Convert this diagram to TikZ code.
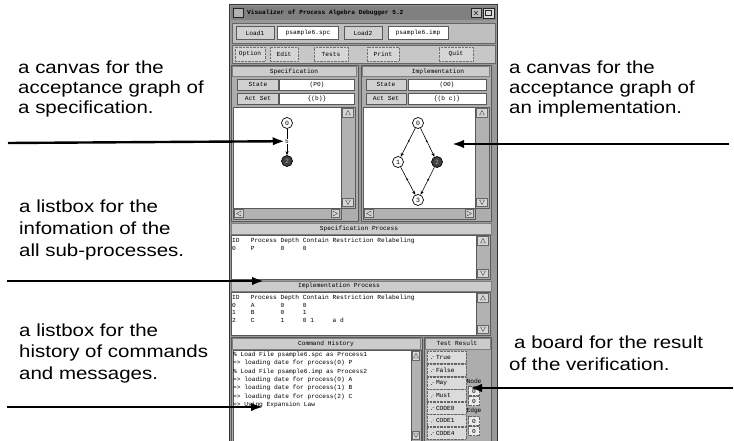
\documentclass[tikz,border=0pt]{standalone}
\usepackage{fontspec}
\setmainfont{Liberation Sans}
\newfontfamily\annotfont[FakeStretch=1.17]{Liberation Sans}
\newfontfamily\guifont{Liberation Mono}
\usetikzlibrary{arrows.meta}

% vertical scrollbar: x1, y1, x2, y2
\newcommand\guivscroll[4]{%
  \filldraw[sbar] (#1,#2) rectangle (#3,#4);
  \filldraw[sbtn] (#1+1.5,#2+1.5) rectangle (#3-1.5,#2+10);
  \filldraw[sbtn] (#1+1.5,#4-10) rectangle (#3-1.5,#4-1.5);
  \draw[black!70,line width=0.4pt] ({(#1+#3)/2-2.5},#2+8) -- ({(#1+#3)/2},#2+3.5) -- ({(#1+#3)/2+2.5},#2+8) -- cycle;
  \draw[black!70,line width=0.4pt] ({(#1+#3)/2-2.5},#4-8) -- ({(#1+#3)/2},#4-3.5) -- ({(#1+#3)/2+2.5},#4-8) -- cycle;
}
% horizontal scrollbar: x1, y1, x2, y2
\newcommand\guihscroll[4]{%
  \filldraw[sbar] (#1,#2) rectangle (#3,#4);
  \filldraw[sbtn] (#1+1.5,#2+1.5) rectangle (#1+10,#4-1.5);
  \filldraw[sbtn] (#3-10,#2+1.5) rectangle (#3-1.5,#4-1.5);
  \draw[black!70,line width=0.4pt] (#1+8,{(#2+#4)/2-2.5}) -- (#1+3.5,{(#2+#4)/2}) -- (#1+8,{(#2+#4)/2+2.5}) -- cycle;
  \draw[black!70,line width=0.4pt] (#3-8,{(#2+#4)/2-2.5}) -- (#3-3.5,{(#2+#4)/2}) -- (#3-8,{(#2+#4)/2+2.5}) -- cycle;
}

\begin{document}
\begin{tikzpicture}[x=1pt,y=-1pt,
  lbl/.style={anchor=base west, inner sep=0pt, font=\annotfont\fontsize{17.5}{21}\selectfont},
  gui/.style={inner sep=0pt, font=\guifont\fontsize{6.2}{7}\selectfont},
  guiw/.style={gui, anchor=west},
  panel/.style={fill=black!32, draw=black!65, line width=0.5pt},
  headbar/.style={fill=black!20, draw=black!50, line width=0.4pt},
  listbox/.style={fill=white, draw=black!65, line width=0.5pt},
  btnbox/.style={gui, draw=black!65, fill=black!18, line width=0.5pt, minimum height=13pt},
  fieldbox/.style={gui, draw=black!65, fill=white, line width=0.5pt, minimum height=13pt},
  menubtn/.style={gui, draw=black!55, densely dotted, fill=black!16, minimum height=14pt},
  resbtn/.style={gui, draw=black!60, densely dotted, fill=black!14, minimum width=39pt,
    minimum height=12pt, text width=39pt, align=left},
  smallfield/.style={gui, draw=black!60, densely dotted, fill=black!8, minimum width=11pt, minimum height=9pt},
  sbar/.style={fill=black!30, draw=black!65, line width=0.4pt},
  sbtn/.style={fill=black!16, draw=black!60, line width=0.4pt},
  gstate/.style={circle, draw, fill=white, line width=0.7pt, minimum size=11pt, inner sep=0pt,
    font=\guifont\fontsize{6.5}{7}\selectfont},
  gfinal/.style={gstate, fill=black!75, text=black!35},
  gedge/.style={line width=0.6pt, -{Stealth[length=4pt,width=3.2pt]}},
  gmark/.style={circle, fill=black, inner sep=0pt, minimum size=2pt},
  callout/.style={line width=2.4pt, -{Latex[length=12pt,width=8.5pt]}}]

\useasboundingbox (0,0) rectangle (734,441);
\fill[white] (0,0) rectangle (734,441);

% ---------- application window ----------
\fill[black!40] (229,4) rectangle (498,441);
\draw[black!80, line width=0.8pt] (229.4,441) -- (229.4,4.4) -- (497.6,4.4) -- (497.6,441);

% title bar
\fill[black!50] (231,6) rectangle (496,20);
\filldraw[fill=black!30, draw=black!85, line width=0.5pt] (233,8.5) rectangle (243,17.5);
\node[guiw, font=\guifont\bfseries\fontsize{6.2}{7}\selectfont] (title) at (247,13)
  {Visualizer of Process Algebra Debugger 5.2};
\filldraw[fill=black!25, draw=black!85, line width=0.5pt] (471,8.5) rectangle (481,17.5);
\draw[black!85, line width=0.6pt] (474,11) -- (478,15) (478,11) -- (474,15);
\filldraw[fill=black!15, draw=black!85, line width=0.5pt] (483,8) rectangle (494,18);
\draw[black!85, line width=0.5pt] (485.5,10.5) rectangle (491.5,15.5);

% file row
\filldraw[fill=black!25, draw=black!60, line width=0.5pt] (232,23) rectangle (495,43);
\node[btnbox, minimum width=38pt] (load1) at (255,33) {Load1};
\node[fieldbox, minimum width=61pt] (spcfile) at (308,33) {psample6.spc};
\node[btnbox, minimum width=38pt] (load2) at (363,33) {Load2};
\node[fieldbox, minimum width=60pt] (impfile) at (418,33) {psample6.imp};

% menu row
\filldraw[fill=black!22, draw=black!60, line width=0.5pt] (232,45) rectangle (495,63);
\node[menubtn, minimum width=30pt] (option) at (250,54) {Option};
\node[menubtn, minimum width=28pt] (edit) at (284,54) {Edit};
\node[menubtn, minimum width=34pt] (tests) at (331,54) {Tests};
\node[menubtn, minimum width=32pt] (print) at (383,54) {Print};
\node[menubtn, minimum width=34pt] (quit) at (456,54) {Quit};

% specification panel
\filldraw[panel] (231,65) rectangle (358,221);
\filldraw[headbar] (232.5,66.5) rectangle (356.5,76.5);
\node[gui] (spechd) at (294,71.5) {Specification};
\node[btnbox, minimum width=41pt, minimum height=11pt] (sst) at (258,84.5) {State};
\node[fieldbox, minimum width=75pt, minimum height=11pt] (sstv) at (317,84.5) {(P0)};
\node[btnbox, minimum width=41pt, minimum height=11pt] (sas) at (258,98.5) {Act Set};
\node[fieldbox, minimum width=75pt, minimum height=11pt] (sasv) at (317,98.5) {\{(b)\}};
\filldraw[listbox] (233,107) rectangle (341,208);
\guivscroll{341}{107}{355}{208}
\guihscroll{233}{208}{341}{219}

% implementation panel
\filldraw[panel] (361,65) rectangle (491,221);
\filldraw[headbar] (362.5,66.5) rectangle (489.5,76.5);
\node[gui] (imphd) at (438,71.5) {Implementation};
\node[btnbox, minimum width=40pt, minimum height=11pt] (ist) at (386,84.5) {State};
\node[fieldbox, minimum width=78pt, minimum height=11pt] (istv) at (447,84.5) {(O0)};
\node[btnbox, minimum width=40pt, minimum height=11pt] (ias) at (386,98.5) {Act Set};
\node[fieldbox, minimum width=78pt, minimum height=11pt] (iasv) at (447,98.5) {\{(b c)\}};
\filldraw[listbox] (363,107) rectangle (475,208);
\guivscroll{475}{107}{489}{208}
\guihscroll{363}{208}{475}{219}

% acceptance graph of the specification
\node[gstate] (s0) at (287,123) {0};
\node[gfinal] (s2) at (287,161) {2};
\draw[gedge] (s0) -- (s2) node[pos=0.47, fill=white, inner sep=0.3pt,
  font=\guifont\fontsize{5.5}{6}\selectfont] (sb) {b};

% acceptance graph of the implementation
\node[gstate] (i0) at (418,123) {0};
\node[gstate] (i1) at (398,162) {1};
\node[gfinal] (i2) at (437,162) {2};
\node[gstate] (i3) at (418,200) {3};
\draw[gedge] (i0) -- (i1) node[pos=0.45, gmark] {};
\draw[gedge] (i0) -- (i2) node[pos=0.45, gmark] {};
\draw[gedge] (i1) -- (i3) node[pos=0.45, gmark] {};
\draw[gedge] (i2) -- (i3) node[pos=0.45, gmark] {};

% specification process list
\filldraw[headbar] (231,223) rectangle (491,234);
\node[gui] (spphd) at (359,228.5) {Specification Process};
\filldraw[listbox] (231,235) rectangle (476,279);
\guivscroll{476}{235}{490}{279}
\node[guiw] (sprow0) at (232,241) {ID~~~Process~Depth~Contain~Restriction~Relabeling};
\node[guiw] (sprow1) at (232,248) {0~~~~P~~~~~~~0~~~~~0};

% implementation process list
\filldraw[headbar] (231,281) rectangle (491,291);
\node[gui] (ipphd) at (339,286) {Implementation Process};
\filldraw[listbox] (231,292) rectangle (476,335);
\guivscroll{476}{292}{490}{335}
\node[guiw] (iprow0) at (232,297.5) {ID~~~Process~Depth~Contain~Restriction~Relabeling};
\node[guiw] (iprow1) at (232,305) {0~~~~A~~~~~~~0~~~~~0};
\node[guiw] (iprow2) at (232,312.5) {1~~~~B~~~~~~~0~~~~~1};
\node[guiw] (iprow3) at (232,320) {2~~~~C~~~~~~~1~~~~~0~1~~~~~a~d};

% command history
\filldraw[panel] (231,337) rectangle (422,441);
\filldraw[headbar] (232.5,338.5) rectangle (420.5,349);
\node[gui] (histhd) at (326,343.5) {Command History};
\filldraw[listbox] (233,350) rectangle (411,441);
\guivscroll{411}{350}{421}{441}
\node[guiw] (h1) at (233,355) {\% Load File psample6.spc as Process1};
\node[guiw] (h2) at (233,363.3) {=> loading date for process(0) P};
\node[guiw] (h3) at (233,371.6) {\% Load File psample6.imp as Process2};
\node[guiw] (h4) at (233,380) {=> loading date for process(0) A};
\node[guiw] (h5) at (233,388.3) {=> loading date for process(1) B};
\node[guiw] (h6) at (233,396.6) {=> loading date for process(2) C};
\node[guiw] (h7) at (233,405) {=> Using Expansion Law};

% test result board
\filldraw[panel] (424,337) rectangle (491,441);
\filldraw[headbar] (425,338.5) rectangle (490,349);
\node[gui] (reshd) at (457,343.5) {Test Result};
\foreach \nm/\yy/\txt in {rtrue/357/True, rfalse/370/False, rmay/383/May, rmust/395.5/Must,
    rcode0/408/CODE0, rcode1/420.5/CODE1, rcode4/433/CODE4} {
  \node[resbtn] (\nm) at (446.5,\yy) {\hspace*{9pt}\txt};
  \fill[black!75] (431.5,\yy+1.5) circle (0.5pt) (433,\yy-0.5) circle (0.5pt);
}
\node[gui] (nodelbl) at (474,381) {Node};
\node[smallfield] (nodev1) at (474,391) {0};
\node[smallfield] (nodev2) at (474,401) {0};
\node[gui] (edgelbl) at (474,411) {Edge};
\node[smallfield] (edgev1) at (474,421) {0};
\node[smallfield] (edgev2) at (474,431) {0};

% ---------- annotations ----------
\node[lbl] (l1a) at (18,74) {a canvas for the};
\node[lbl] (l1b) at (18,94) {acceptance graph of};
\node[lbl] (l1c) at (18,114) {a specification.};

\node[lbl] (l2a) at (509,74) {a canvas for the};
\node[lbl] (l2b) at (509,94) {acceptance graph of};
\node[lbl] (l2c) at (509,114) {an implementation.};

\node[lbl] (l3a) at (19,212) {a listbox for the};
\node[lbl] (l3b) at (19,234) {infomation of the};
\node[lbl] (l3c) at (19,256) {all sub-processes.};

\node[lbl] (l4a) at (19,336) {a listbox for the};
\node[lbl] (l4b) at (19,357) {history of commands};
\node[lbl] (l4c) at (19,379) {and messages.};

\node[lbl] (l5a) at (514,348) {a board for the result};
\node[lbl] (l5b) at (509,370) {of the verification.};

% pointer arrows
\coordinate (p1) at (8,143);
\coordinate (p2) at (729,144);
\coordinate (q2) at (452,144);
\coordinate (p3) at (7,281);
\coordinate (q3) at (264,281);
\coordinate (p4) at (7,407);
\coordinate (q4) at (263,407);
\coordinate (p5) at (733,388);
\coordinate (q5) at (470,388);
\draw[callout] (p1) -- (sb.west);
\draw[callout] (p2) -- (q2);
\draw[callout] (p3) -- (q3);
\draw[callout] (p4) -- (q4);
\draw[callout] (p5) -- (q5);
\end{tikzpicture}
\end{document}
